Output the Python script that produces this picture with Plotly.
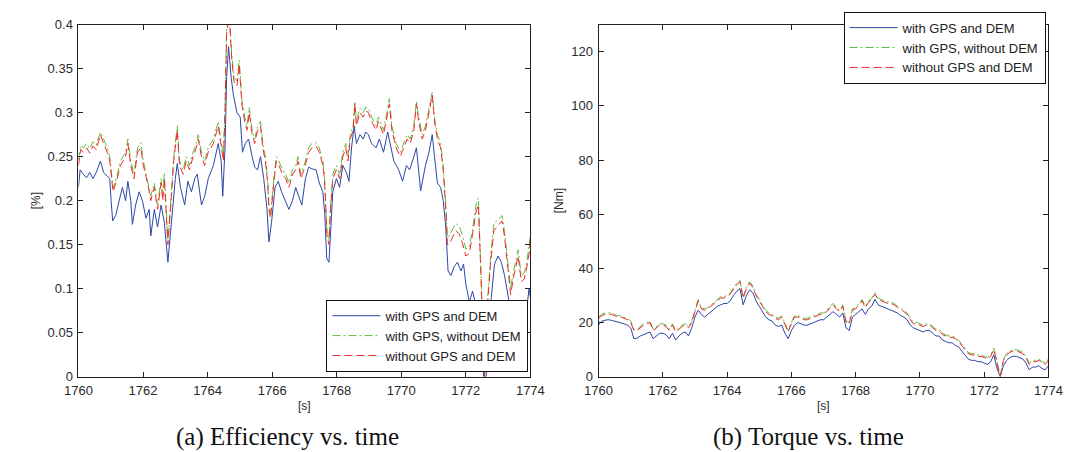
import numpy as np
import plotly.graph_objects as go

series_names = ["with GPS and DEM", "with GPS, without DEM", "without GPS and DEM"]

# ---------------- Efficiency (left panel) ----------------
eff_time_gps_dem = [
    1760.00, 1760.05, 1760.15, 1760.25, 1760.35, 1760.45, 1760.55, 1760.68, 1760.78, 1760.89,
    1760.97, 1761.01, 1761.06, 1761.15, 1761.25, 1761.36, 1761.46, 1761.53, 1761.62, 1761.67,
    1761.77, 1761.88, 1761.98, 1762.09, 1762.19, 1762.24, 1762.35, 1762.45, 1762.56, 1762.66,
    1762.77, 1762.84, 1762.92, 1763.00, 1763.06, 1763.16, 1763.29, 1763.39, 1763.50, 1763.60,
    1763.68, 1763.81, 1763.91, 1764.02, 1764.18, 1764.33, 1764.42, 1764.47, 1764.54, 1764.59,
    1764.65, 1764.73, 1764.80, 1764.91, 1765.01, 1765.08, 1765.17, 1765.27, 1765.38, 1765.46,
    1765.55, 1765.64, 1765.74, 1765.84, 1765.90, 1765.98, 1766.09, 1766.19, 1766.29, 1766.42,
    1766.52, 1766.63, 1766.73, 1766.82, 1766.92, 1767.03, 1767.13, 1767.25, 1767.36, 1767.46,
    1767.57, 1767.63, 1767.69, 1767.76, 1767.81, 1767.88, 1767.99, 1768.09, 1768.19, 1768.30,
    1768.38, 1768.46, 1768.54, 1768.61, 1768.72, 1768.82, 1768.90, 1768.98, 1769.08, 1769.22,
    1769.32, 1769.45, 1769.58, 1769.66, 1769.77, 1769.92, 1770.04, 1770.16, 1770.26, 1770.39,
    1770.47, 1770.60, 1770.75, 1770.86, 1770.96, 1771.03, 1771.12, 1771.22, 1771.30, 1771.38,
    1771.45, 1771.54, 1771.64, 1771.74, 1771.85, 1771.93, 1772.00, 1772.11, 1772.21, 1772.32,
    1772.42, 1772.49, 1772.55, 1772.63, 1772.70, 1772.79, 1772.89, 1773.00, 1773.10, 1773.20,
    1773.29, 1773.39, 1773.50, 1773.60, 1773.70, 1773.81, 1773.88, 1773.96, 1774.00,
]
eff_with_gps_dem = [
    0.215, 0.235, 0.230, 0.226, 0.232, 0.225, 0.232, 0.245, 0.232, 0.228,
    0.225, 0.200, 0.177, 0.183, 0.200, 0.215, 0.200, 0.222, 0.200, 0.173,
    0.195, 0.210, 0.200, 0.180, 0.190, 0.160, 0.190, 0.170, 0.195, 0.175,
    0.130, 0.160, 0.200, 0.225, 0.242, 0.215, 0.195, 0.222, 0.210, 0.225,
    0.230, 0.195, 0.205, 0.225, 0.240, 0.265, 0.245, 0.205, 0.260, 0.340,
    0.375, 0.340, 0.320, 0.300, 0.295, 0.255, 0.265, 0.270, 0.250, 0.238,
    0.235, 0.250, 0.225, 0.190, 0.153, 0.175, 0.215, 0.222, 0.210, 0.198,
    0.190, 0.200, 0.215, 0.205, 0.195, 0.225, 0.238, 0.236, 0.235, 0.220,
    0.210, 0.185, 0.135, 0.130, 0.160, 0.210, 0.225, 0.215, 0.240, 0.232,
    0.222, 0.260, 0.285, 0.265, 0.275, 0.270, 0.278, 0.275, 0.265, 0.260,
    0.270, 0.255, 0.278, 0.265, 0.245, 0.235, 0.222, 0.240, 0.235, 0.250,
    0.260, 0.211, 0.240, 0.255, 0.275, 0.250, 0.220, 0.215, 0.200, 0.170,
    0.120, 0.115, 0.125, 0.130, 0.120, 0.128, 0.105, 0.085, 0.097, 0.080,
    0.070, 0.040, 0.000, 0.000, 0.050, 0.090, 0.128, 0.137, 0.130, 0.115,
    0.095, 0.075, 0.085, 0.080, 0.068, 0.060, 0.075, 0.100, 0.090,
]

eff_time_other = [
    1760.00, 1760.07, 1760.15, 1760.25, 1760.35, 1760.45, 1760.55, 1760.68, 1760.78, 1760.89,
    1760.97, 1761.07, 1761.20, 1761.30, 1761.46, 1761.53, 1761.62, 1761.72, 1761.83, 1761.93,
    1762.01, 1762.14, 1762.24, 1762.35, 1762.45, 1762.56, 1762.61, 1762.66, 1762.71, 1762.77,
    1762.87, 1762.95, 1763.06, 1763.13, 1763.24, 1763.34, 1763.44, 1763.55, 1763.65, 1763.71,
    1763.81, 1763.91, 1764.02, 1764.18, 1764.33, 1764.44, 1764.49, 1764.54, 1764.59, 1764.67,
    1764.75, 1764.82, 1764.91, 1764.98, 1765.06, 1765.15, 1765.22, 1765.29, 1765.38, 1765.46,
    1765.55, 1765.64, 1765.71, 1765.79, 1765.86, 1765.90, 1765.95, 1766.05, 1766.13, 1766.21,
    1766.32, 1766.42, 1766.52, 1766.63, 1766.73, 1766.80, 1766.89, 1767.03, 1767.13, 1767.23,
    1767.36, 1767.46, 1767.57, 1767.62, 1767.65, 1767.70, 1767.76, 1767.80, 1767.88, 1767.99,
    1768.09, 1768.19, 1768.28, 1768.35, 1768.42, 1768.51, 1768.56, 1768.61, 1768.72, 1768.82,
    1768.90, 1768.98, 1769.08, 1769.22, 1769.29, 1769.37, 1769.45, 1769.58, 1769.63, 1769.71,
    1769.84, 1769.97, 1770.07, 1770.18, 1770.28, 1770.39, 1770.47, 1770.54, 1770.65, 1770.75,
    1770.86, 1770.96, 1771.03, 1771.12, 1771.22, 1771.30, 1771.38, 1771.43, 1771.48, 1771.59,
    1771.69, 1771.80, 1771.90, 1772.00, 1772.11, 1772.21, 1772.32, 1772.39, 1772.45, 1772.53,
    1772.58, 1772.66, 1772.77, 1772.87, 1772.97, 1773.05, 1773.12, 1773.20, 1773.29, 1773.39,
    1773.47, 1773.57, 1773.62, 1773.72, 1773.81, 1773.88, 1773.96, 1774.00,
]
eff_no_gps_dem = [
    0.240, 0.258, 0.255, 0.260, 0.254, 0.262, 0.258, 0.275, 0.265, 0.255,
    0.245, 0.210, 0.225, 0.240, 0.250, 0.265, 0.240, 0.225, 0.255, 0.260,
    0.240, 0.220, 0.200, 0.215, 0.190, 0.220, 0.200, 0.225, 0.190, 0.150,
    0.200, 0.245, 0.280, 0.240, 0.230, 0.245, 0.235, 0.250, 0.260, 0.270,
    0.250, 0.240, 0.255, 0.265, 0.285, 0.260, 0.245, 0.300, 0.390, 0.410,
    0.360, 0.335, 0.330, 0.355, 0.310, 0.290, 0.280, 0.300, 0.275, 0.265,
    0.280, 0.285, 0.260, 0.245, 0.220, 0.190, 0.180, 0.220, 0.245, 0.240,
    0.230, 0.225, 0.215, 0.230, 0.235, 0.245, 0.225, 0.240, 0.255, 0.260,
    0.262, 0.255, 0.240, 0.225, 0.200, 0.160, 0.150, 0.185, 0.225, 0.235,
    0.225, 0.250, 0.260, 0.245, 0.270, 0.280, 0.310, 0.285, 0.300, 0.295,
    0.302, 0.300, 0.290, 0.280, 0.290, 0.282, 0.275, 0.300, 0.310, 0.280,
    0.260, 0.250, 0.260, 0.270, 0.265, 0.280, 0.310, 0.290, 0.270, 0.280,
    0.300, 0.320, 0.290, 0.270, 0.260, 0.235, 0.190, 0.150, 0.150, 0.159,
    0.166, 0.162, 0.151, 0.137, 0.140, 0.162, 0.188, 0.195, 0.130, 0.056,
    0.000, 0.075, 0.130, 0.166, 0.170, 0.173, 0.177, 0.159, 0.130, 0.093,
    0.111, 0.130, 0.137, 0.108, 0.111, 0.122, 0.140, 0.155,
]
eff_gps_no_dem = [
    0.246, 0.263, 0.260, 0.265, 0.259, 0.267, 0.263, 0.278, 0.270, 0.260,
    0.250, 0.214, 0.229, 0.245, 0.255, 0.270, 0.245, 0.230, 0.260, 0.266,
    0.245, 0.224, 0.205, 0.220, 0.195, 0.225, 0.205, 0.232, 0.195, 0.155,
    0.205, 0.250, 0.285, 0.245, 0.235, 0.250, 0.240, 0.255, 0.265, 0.275,
    0.255, 0.245, 0.260, 0.270, 0.290, 0.265, 0.250, 0.305, 0.395, 0.415,
    0.365, 0.340, 0.336, 0.360, 0.315, 0.295, 0.285, 0.306, 0.280, 0.270,
    0.285, 0.290, 0.265, 0.250, 0.225, 0.195, 0.184, 0.225, 0.250, 0.245,
    0.235, 0.230, 0.220, 0.235, 0.240, 0.250, 0.230, 0.245, 0.260, 0.265,
    0.266, 0.260, 0.245, 0.230, 0.205, 0.165, 0.155, 0.190, 0.230, 0.240,
    0.230, 0.255, 0.265, 0.250, 0.275, 0.285, 0.313, 0.290, 0.305, 0.300,
    0.306, 0.305, 0.295, 0.285, 0.295, 0.287, 0.280, 0.305, 0.316, 0.285,
    0.265, 0.255, 0.265, 0.275, 0.270, 0.285, 0.313, 0.295, 0.275, 0.285,
    0.305, 0.323, 0.295, 0.275, 0.265, 0.240, 0.196, 0.158, 0.160, 0.168,
    0.174, 0.171, 0.160, 0.145, 0.147, 0.168, 0.196, 0.203, 0.136, 0.060,
    0.000, 0.080, 0.137, 0.174, 0.178, 0.180, 0.183, 0.165, 0.137, 0.100,
    0.118, 0.137, 0.144, 0.115, 0.118, 0.128, 0.147, 0.160,
]

# ---------------- Torque (right panel) ----------------
torque_time = np.round(np.arange(1760.0, 1774.05, 0.1), 1)

torque_with_gps_dem = [
    19.0, 20.5, 20.8, 21.0, 20.8, 20.5, 20.2, 20.0, 19.5, 19.0,
    18.0, 14.0, 14.2, 15.0, 15.5, 16.0, 16.5, 14.0, 15.0, 16.0,
    16.0, 15.5, 14.0, 16.0, 13.5, 15.0, 16.0, 16.5, 15.0, 18.0,
    22.0, 24.5, 23.0, 22.0, 23.0, 24.0, 25.0, 26.0, 26.5, 27.0,
    27.0, 28.0, 30.0, 31.5, 32.5, 26.5, 30.0, 32.0, 31.0, 28.0,
    26.0, 24.0, 22.0, 21.0, 20.5, 19.0, 18.5, 19.0, 16.0, 14.0,
    17.0, 19.0, 20.0, 19.5, 19.0, 19.0, 19.5, 20.0, 20.5, 21.0,
    21.0, 22.0, 23.0, 24.0, 23.0, 22.0, 23.5, 18.0, 17.0, 22.0,
    23.0, 24.0, 25.0, 23.0, 25.0, 26.0, 28.5, 26.5, 26.0, 25.5,
    25.0, 24.5, 24.0, 23.5, 22.5, 22.0, 21.0, 19.0, 18.0, 17.5,
    17.0, 16.5, 17.0, 17.0, 16.0, 15.0, 15.0, 13.5, 13.0, 12.5,
    12.5, 11.5, 11.0, 9.5, 8.0, 6.5, 6.0, 6.0, 5.5, 5.5,
    5.0, 4.5, 5.5, 8.0, 3.0, 0.0, 4.0, 6.0, 7.0, 7.5,
    7.5, 7.0, 6.5, 5.0, 2.5, 3.5, 3.5, 4.0, 3.0, 2.5,
    4.0,
]

torque_gps_no_dem = [
    22.0, 23.0, 23.5, 23.5, 23.5, 23.0, 22.5, 22.5, 22.0, 21.5,
    20.5, 17.5, 17.5, 18.5, 19.5, 20.0, 20.5, 17.5, 18.5, 19.5,
    19.5, 19.0, 17.5, 19.5, 17.0, 18.0, 19.0, 19.5, 18.5, 20.5,
    24.5, 28.5, 25.5, 25.0, 25.5, 26.5, 27.5, 28.5, 29.5, 29.5,
    30.0, 31.0, 33.0, 34.5, 35.5, 29.5, 33.0, 35.0, 33.5, 30.5,
    28.5, 26.5, 24.5, 23.5, 23.0, 22.0, 21.5, 22.5, 19.5, 17.0,
    20.0, 22.5, 22.5, 22.0, 21.5, 21.5, 22.0, 22.5, 23.0, 23.5,
    23.5, 24.5, 26.0, 27.0, 25.5, 24.5, 26.5, 20.5, 20.0, 25.0,
    25.5, 27.0, 28.5, 26.0, 28.0, 29.0, 31.0, 29.0, 28.5, 28.0,
    27.5, 27.5, 27.0, 26.0, 25.5, 24.5, 23.5, 21.5, 20.0, 20.0,
    19.5, 19.0, 19.5, 19.5, 18.5, 17.5, 17.5, 16.0, 15.5, 15.0,
    15.0, 14.5, 13.5, 12.0, 10.5, 9.0, 8.5, 8.5, 8.0, 8.0,
    7.5, 7.0, 8.0, 10.5, 5.5, 0.0, 6.5, 8.5, 9.5, 10.0,
    10.0, 9.5, 9.0, 7.5, 5.0, 6.0, 6.0, 6.5, 5.5, 5.0,
    6.5,
]

torque_no_gps_dem = [
    21.5, 22.5, 23.0, 23.0, 23.0, 22.5, 22.0, 22.0, 21.5, 21.0,
    20.0, 17.0, 17.0, 18.0, 19.0, 19.5, 20.0, 17.0, 18.0, 19.0,
    19.0, 18.5, 17.0, 19.0, 16.5, 17.5, 18.5, 19.0, 18.0, 20.0,
    24.0, 28.0, 25.0, 24.5, 25.0, 26.0, 27.0, 28.0, 29.0, 29.0,
    29.5, 30.5, 32.5, 34.0, 35.0, 29.0, 32.5, 34.5, 33.0, 30.0,
    28.0, 26.0, 24.0, 23.0, 22.5, 21.5, 21.0, 22.0, 19.0, 16.5,
    19.5, 22.0, 22.0, 21.5, 21.0, 21.0, 21.5, 22.0, 22.5, 23.0,
    23.0, 24.0, 25.5, 26.5, 25.0, 24.0, 26.0, 20.0, 19.5, 24.5,
    25.0, 26.5, 28.0, 25.5, 27.5, 28.5, 30.5, 28.5, 28.0, 27.5,
    27.0, 27.0, 26.5, 25.5, 25.0, 24.0, 23.0, 21.0, 19.5, 19.5,
    19.0, 18.5, 19.0, 19.0, 18.0, 17.0, 17.0, 15.5, 15.0, 14.5,
    14.5, 14.0, 13.0, 11.5, 10.0, 8.5, 8.0, 8.0, 7.5, 7.5,
    7.0, 6.5, 7.5, 10.0, 5.0, 0.0, 6.0, 8.0, 9.0, 9.5,
    9.5, 9.0, 8.5, 7.0, 4.5, 5.5, 5.5, 6.0, 5.0, 4.5,
    6.0,
]

eff_yticks = [0, 0.05, 0.1, 0.15, 0.2, 0.25, 0.3, 0.35, 0.4]
torque_yticks = [0, 20, 40, 60, 80, 100, 120]
xticks = [1760, 1762, 1764, 1766, 1768, 1770, 1772, 1774]

colors = ["#2a47a6", "#5cbf3f", "#f02a2a"]
dashes = ["solid", "8px,3px,2px,3px", "8px,4px"]

fig = go.Figure()

eff_x = [eff_time_gps_dem, eff_time_other, eff_time_other]
eff_sets = [eff_with_gps_dem, eff_gps_no_dem, eff_no_gps_dem]
tq_sets = [torque_with_gps_dem, torque_gps_no_dem, torque_no_gps_dem]
for i in range(3):
    fig.add_trace(go.Scatter(
        x=eff_x[i], y=eff_sets[i], mode="lines", name=series_names[i],
        line=dict(color=colors[i], width=1, dash=dashes[i]),
        xaxis="x", yaxis="y", legend="legend"))
for i in range(3):
    fig.add_trace(go.Scatter(
        x=torque_time, y=tq_sets[i], mode="lines", name=series_names[i],
        line=dict(color=colors[i], width=1, dash=dashes[i]),
        xaxis="x2", yaxis="y2", legend="legend2"))

W, H = 1072, 452
sans = "Liberation Sans, Arial, Helvetica, sans-serif"
tickfont = dict(family=sans, size=13, color="#2a2a2a")
ydom = [(H - 374) / H, (H - 10) / H]

axis_common = dict(
    showline=True, linecolor="#222", linewidth=1, mirror="ticks",
    ticks="inside", ticklen=5, tickcolor="#222", tickwidth=1,
    showgrid=False, zeroline=False, tickfont=tickfont,
)

legend_common = dict(
    xanchor="right", yanchor="bottom", bgcolor="white",
    bordercolor="#111", borderwidth=1,
    font=dict(family=sans, size=13, color="#222"),
    tracegroupgap=0, itemwidth=48,
)

fig.update_layout(
    width=W, height=H,
    margin=dict(l=0, r=0, t=0, b=0),
    paper_bgcolor="white", plot_bgcolor="white",
    xaxis=dict(domain=[58 / W, 522 / W], range=[1760, 1774], tickvals=xticks,
               anchor="y", ticklabelstandoff=2, **axis_common),
    yaxis=dict(domain=ydom, range=[0, 0.4], tickvals=eff_yticks,
               ticktext=[("%g" % v) for v in eff_yticks], anchor="x",
               ticklabelstandoff=2, **axis_common),
    xaxis2=dict(domain=[592 / W, 1054 / W], range=[1760, 1774], tickvals=xticks,
                anchor="y2", ticklabelstandoff=2, **axis_common),
    yaxis2=dict(domain=ydom, range=[0, 130], tickvals=torque_yticks,
                anchor="x2", ticklabelstandoff=2, **axis_common),
    legend=dict(x=520 / W, y=(H - 369) / H, **legend_common),
    legend2=dict(x=1051 / W, y=(H - 71) / H, **legend_common),
    showlegend=True,
)

label_font = dict(family=sans, size=12, color="#2a2a2a")
cap_font = dict(family="Liberation Serif, Times New Roman, serif", size=25, color="#111")
annotations = [
    dict(text="[s]", x=(58 + 522) / 2 / W, y=(H - 404) / H, xref="paper", yref="paper",
         showarrow=False, font=label_font, xanchor="center", yanchor="middle"),
    dict(text="[s]", x=(592 + 1054) / 2 / W, y=(H - 404) / H, xref="paper", yref="paper",
         showarrow=False, font=label_font, xanchor="center", yanchor="middle"),
    dict(text="[%]", x=14 / W, y=(H - 192) / H, xref="paper", yref="paper",
         showarrow=False, font=label_font, textangle=-90, xanchor="center", yanchor="middle"),
    dict(text="[Nm]", x=551 / W, y=(H - 192) / H, xref="paper", yref="paper",
         showarrow=False, font=label_font, textangle=-90, xanchor="center", yanchor="middle"),
    dict(text="(a) Efficiency vs. time", x=273 / W, y=(H - 436) / H, xref="paper", yref="paper",
         showarrow=False, font=cap_font, xanchor="center", yanchor="middle"),
    dict(text="(b) Torque vs. time", x=808 / W, y=(H - 436) / H, xref="paper", yref="paper",
         showarrow=False, font=cap_font, xanchor="center", yanchor="middle"),
]
fig.update_layout(annotations=annotations)

fig.write_html("out.html")
